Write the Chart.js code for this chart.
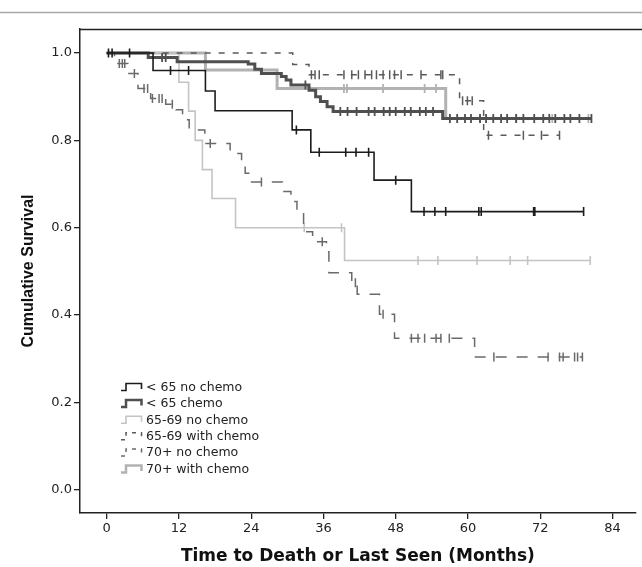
<!DOCTYPE html>
<html>
<head>
<meta charset="utf-8">
<script src="https://cdn.jsdelivr.net/npm/chart.js@4.4.1/dist/chart.umd.min.js"></script>
<style>
  html, body { margin: 0; padding: 0; background: #ffffff; }
  canvas { display: block; }
</style>
</head>
<body>
<canvas id="km" width="642" height="567"></canvas>
<script>
// ---------- data ----------
const seriesNames = ['< 65 no chemo', '< 65 chemo', '65-69 no chemo', '65-69 with chemo', '70+ no chemo', '70+ with chemo'];

const xTicks = [0, 12, 24, 36, 48, 60, 72, 84];
const yTicks = [0.0, 0.2, 0.4, 0.6, 0.8, 1.0];

// < 65 no chemo
const lt65NoChemoTimes = [0, 7.7, 16.4, 18.0, 30.8, 33.9, 44.4, 50.6];
const lt65NoChemoSurv  = [1, 0.960, 0.913, 0.868, 0.824, 0.773, 0.709, 0.637];
const lt65NoChemoCens  = [0.3, 0.9, 3.8, 10.6, 13.6, 31.5, 35.3, 39.7, 41.4, 43.5, 48.0, 52.7, 54.5, 56.3, 61.8, 62.2, 70.9, 71.1, 79.2];

// < 65 chemo
const lt65ChemoTimes = [0, 6.9, 11.7, 23.5, 24.6, 25.7, 29.0, 29.8, 30.6, 33.6, 34.7, 35.5, 36.6, 37.6, 55.8];
const lt65ChemoSurv  = [1, 0.990, 0.980, 0.975, 0.963, 0.953, 0.946, 0.938, 0.927, 0.915, 0.900, 0.889, 0.877, 0.866, 0.850];
const lt65ChemoCens  = [9.2, 9.8, 33.0, 38.8, 40.0, 41.5, 43.5, 44.5, 46.0, 47.0, 48.0, 49.5, 50.5, 52.0, 53.0, 54.2, 57.0, 58.2, 59.5, 60.5, 62.0, 63.0, 64.2, 65.5, 66.5, 68.0, 69.2, 71.0, 72.5, 73.5, 74.5, 76.0, 77.0, 78.5, 80.5];

// 65-69 no chemo
const a6569NoChemoTimes = [0, 12.0, 13.6, 14.7, 15.9, 17.5, 21.4, 39.5];
const a6569NoChemoSurv  = [1, 0.933, 0.867, 0.800, 0.733, 0.667, 0.600, 0.525];
const a6569NoChemoCens  = [32.8, 39.0, 51.7, 55.0, 61.5, 67.0, 69.9, 80.3];

// 65-69 with chemo
const a6569ChemoTimes = [0, 30.9, 33.6, 58.6, 62.6];
const a6569ChemoSurv  = [1, 0.974, 0.950, 0.891, 0.812];
const a6569ChemoCens  = [34.0, 34.6, 35.3, 39.4, 40.7, 41.8, 42.9, 44.0, 44.8, 45.9, 47.0, 47.8, 48.9, 52.2, 55.5, 55.8, 59.1, 59.9, 60.7, 63.4, 69.2, 72.2, 75.2];

// 70+ no chemo
const a70NoChemoTimes = [0, 1.3, 3.5, 5.2, 7.3, 9.8, 11.5, 12.6, 13.7, 16.3, 20.5, 22.4, 23.0, 23.8, 29.2, 30.6, 31.6, 32.7, 34.2, 36.5, 36.9, 40.7, 41.6, 45.3, 47.8, 61.1];
const a70NoChemoSurv  = [1, 0.976, 0.953, 0.919, 0.896, 0.883, 0.870, 0.847, 0.824, 0.793, 0.770, 0.748, 0.725, 0.705, 0.683, 0.660, 0.637, 0.591, 0.568, 0.545, 0.497, 0.474, 0.448, 0.402, 0.347, 0.304];
const a70NoChemoCens  = [2.1, 2.6, 3.0, 4.6, 6.2, 6.8, 7.6, 8.7, 9.2, 10.9, 17.2, 25.7, 35.8, 41.3, 45.9, 50.6, 51.7, 52.8, 54.7, 55.5, 56.9, 64.3, 73.3, 75.2, 75.8, 77.7, 78.2, 79.0];

// 70+ with chemo
const a70ChemoTimes = [0, 16.4, 28.3, 56.3];
const a70ChemoSurv  = [1, 0.961, 0.919, 0.850];
const a70ChemoCens  = [39.4, 39.9, 45.9, 52.8, 54.7, 62.0, 68.0, 74.0, 80.0];

// ---------- build Kaplan-Meier step data ----------
function kmPoints(times, surv, cens) {
  const pts = times.map((t, i) => ({ x: t, y: surv[i], c: false }));
  cens.forEach(t => {
    let v = surv[0];
    for (let i = 0; i < times.length; i++) if (times[i] <= t) v = surv[i];
    pts.push({ x: t, y: v, c: true });
  });
  pts.sort((a, b) => (a.x - b.x) || ((a.c ? 1 : 0) - (b.c ? 1 : 0)));
  return pts;
}

const styles = [
  { color: '#1c1c1c', width: 1.6, dash: [],      order: 0 },
  { color: '#4f4f4f', width: 3,   dash: [],      order: 1 },
  { color: '#c4c4c4', width: 1.6, dash: [],      order: 4 },
  { color: '#5a5a5a', width: 1.5, dash: [6, 8],  order: 2 },
  { color: '#6a6a6a', width: 1.5, dash: [11, 10], order: 3 },
  { color: '#b2b2b2', width: 3,   dash: [],      order: 5 }
];

const seriesData = [
  kmPoints(lt65NoChemoTimes, lt65NoChemoSurv, lt65NoChemoCens),
  kmPoints(lt65ChemoTimes, lt65ChemoSurv, lt65ChemoCens),
  kmPoints(a6569NoChemoTimes, a6569NoChemoSurv, a6569NoChemoCens),
  kmPoints(a6569ChemoTimes, a6569ChemoSurv, a6569ChemoCens),
  kmPoints(a70NoChemoTimes, a70NoChemoSurv, a70NoChemoCens),
  kmPoints(a70ChemoTimes, a70ChemoSurv, a70ChemoCens)
];

const datasets = seriesData.map((d, i) => ({
  label: seriesNames[i],
  data: d,
  stepped: true,
  fill: false,
  borderColor: styles[i].color,
  borderWidth: styles[i].width,
  borderDash: styles[i].dash,
  order: styles[i].order,
  pointStyle: 'line',
  rotation: 90,
  pointRadius: ctx => (ctx.raw && ctx.raw.c) ? 4.5 : 0,
  pointBorderColor: styles[i].color,
  pointBorderWidth: Math.min(styles[i].width, 1.8),
  pointHoverRadius: 0,
  pointHitRadius: 0
}));

// ---------- decorations plugin ----------
const decor = {
  id: 'decor',
  beforeDraw(chart) {
    const { ctx, chartArea } = chart;
    ctx.save();
    // outer figure rule at the top
    ctx.strokeStyle = '#a8a8a8';
    ctx.lineWidth = 1.5;
    ctx.beginPath();
    ctx.moveTo(0, 12.5);
    ctx.lineTo(chart.width, 12.5);
    ctx.stroke();
    // top frame line of the plot box
    ctx.strokeStyle = '#222';
    ctx.lineWidth = 1.5;
    ctx.beginPath();
    ctx.moveTo(chartArea.left, chartArea.top + 0.5);
    ctx.lineTo(chart.width, chartArea.top + 0.5);
    ctx.stroke();
    ctx.restore();
  },
  afterDraw(chart) {
    const { ctx } = chart;
    const x0 = 121, y0 = 387, step = 16.4;
    ctx.save();
    chart.data.datasets.forEach((ds, i) => {
      const y = y0 + i * step;
      ctx.strokeStyle = ds.borderColor;
      ctx.lineWidth = Math.min(ds.borderWidth, 2.5);
      ctx.setLineDash(ds.borderDash && ds.borderDash.length ? [4, 5] : []);
      ctx.beginPath();
      ctx.moveTo(x0, y + 3.5);
      ctx.lineTo(x0 + 5, y + 3.5);
      ctx.lineTo(x0 + 5, y - 3.5);
      ctx.lineTo(x0 + 20.5, y - 3.5);
      ctx.lineTo(x0 + 20.5, y + 2);
      ctx.stroke();
      ctx.setLineDash([]);
      ctx.fillStyle = '#222';
      ctx.font = '12.5px "DejaVu Sans"';
      ctx.textBaseline = 'middle';
      ctx.textAlign = 'left';
      ctx.fillText(ds.label, x0 + 25, y + 0.5);
    });
    ctx.restore();
  }
};

new Chart(document.getElementById('km'), {
  type: 'line',
  data: { datasets },
  options: {
    responsive: false,
    animation: false,
    devicePixelRatio: 1,
    layout: { padding: { top: 29, left: 0, right: 0, bottom: 0 } },
    plugins: { legend: { display: false }, tooltip: { enabled: false } },
    scales: {
      x: {
        type: 'linear',
        min: -4.43,
        max: 87.85,
        afterBuildTicks: s => { s.ticks = xTicks.map(v => ({ value: v })); },
        afterFit: s => { s.height = 54; },
        grid: { display: true, drawOnChartArea: false, drawTicks: true, tickLength: 6, color: '#222', lineWidth: 1.3 },
        border: { display: true, color: '#222', width: 1.5 },
        ticks: { color: '#222', font: { family: 'DejaVu Sans', size: 13 }, padding: 2, maxRotation: 0, autoSkip: false, callback: v => String(v) },
        title: { display: true, text: 'Time to Death or Last Seen (Months)', color: '#111', font: { family: 'DejaVu Sans', size: 17, weight: 'bold' }, padding: { top: 0, bottom: 0 } }
      },
      y: {
        type: 'linear',
        min: -0.053,
        max: 1.055,
        afterBuildTicks: s => { s.ticks = yTicks.map(v => ({ value: v })); },
        afterFit: s => { s.width = 80; },
        grid: { display: true, drawOnChartArea: false, drawTicks: true, tickLength: 6, color: '#222', lineWidth: 1.3 },
        border: { display: true, color: '#222', width: 1.5 },
        ticks: { color: '#222', font: { family: 'DejaVu Sans', size: 13 }, padding: 2, autoSkip: false, callback: v => Number(v).toFixed(1) },
        title: { display: true, text: 'Cumulative Survival', color: '#111', font: { family: 'Liberation Sans', size: 16, weight: 'bold' }, padding: { top: 19, bottom: 0 } }
      }
    }
  },
  plugins: [decor]
});
</script>
</body>
</html>
